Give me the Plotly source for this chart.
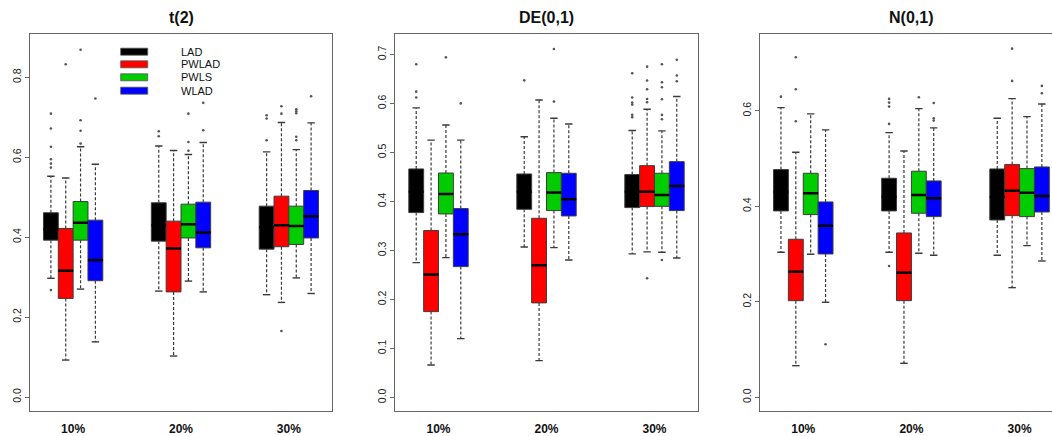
import plotly.graph_objects as go

# ---------------- data ----------------
groups = ["10%", "20%", "30%"]
group_pos = [1, 2, 3]
methods = ["LAD", "PWLAD", "PWLS", "WLAD"]
colors = ["#000000", "#FF0000", "#00CC00", "#0000FF"]
panel_titles = ["t(2)", "DE(0,1)", "N(0,1)"]

# t(2): rows = methods (LAD, PWLAD, PWLS, WLAD), cols = groups
t2_q1 = [[0.3925, 0.390, 0.370], [0.2467, 0.263, 0.376], [0.3925, 0.398, 0.3817], [0.291, 0.3733, 0.398]]
t2_med = [[0.420, 0.430, 0.425], [0.316, 0.3717, 0.430], [0.436, 0.4325, 0.428], [0.3425, 0.4117, 0.4525]]
t2_q3 = [[0.461, 0.486, 0.4775], [0.4217, 0.440, 0.5025], [0.489, 0.4825, 0.4775], [0.4425, 0.4875, 0.5167]]
t2_lo = [[0.297, 0.265, 0.256], [0.0925, 0.1025, 0.2367], [0.270, 0.290, 0.298], [0.138, 0.263, 0.259]]
t2_hi = [[0.5525, 0.628, 0.6133], [0.548, 0.6167, 0.6867], [0.626, 0.6067, 0.619], [0.5825, 0.6367, 0.6858]]
t2_out = [
    [[0.709, 0.672, 0.626, 0.595, 0.584, 0.574, 0.2675], [0.665, 0.6525], [0.705, 0.697, 0.6425]],
    [[0.8325], [], [0.7275, 0.709, 0.165]],
    [[0.869, 0.6925, 0.666, 0.634], [0.709, 0.638, 0.616], [0.720, 0.715, 0.710, 0.651, 0.6425]],
    [[0.747], [0.736, 0.6675], [0.7525]],
]

# DE(0,1)
de_q1 = [[0.3772, 0.384, 0.3874], [0.1752, 0.193, 0.3895], [0.3745, 0.3813, 0.390], [0.267, 0.3704, 0.3813]]
de_med = [[0.420, 0.420, 0.420], [0.2507, 0.2697, 0.420], [0.4153, 0.418, 0.4133], [0.333, 0.4045, 0.4316]]
de_q3 = [[0.4663, 0.456, 0.4548], [0.3405, 0.3656, 0.473], [0.458, 0.4588, 0.4575], [0.3854, 0.4575, 0.4812]]
de_lo = [[0.2752, 0.307, 0.2929], [0.0663, 0.0752, 0.297], [0.2854, 0.3058, 0.2963], [0.120, 0.2806, 0.2847]]
de_hi = [[0.5908, 0.532, 0.5446], [0.525, 0.607, 0.588], [0.556, 0.5697, 0.5439], [0.525, 0.558, 0.614]]
de_out = [
    [[0.680, 0.624, 0.612], [0.647], [0.6616, 0.612, 0.6017, 0.5976, 0.5765, 0.5718]],
    [[], [], [0.675, 0.6466, 0.629, 0.609, 0.6024, 0.2432]],
    [[0.694], [0.711, 0.6037], [0.680, 0.643, 0.633, 0.6085, 0.5765, 0.5677, 0.2806]],
    [[0.600], [], [0.689, 0.6568, 0.6453]],
]

# N(0,1)
n_q1 = [[0.3902, 0.3902, 0.3713], [0.2023, 0.2023, 0.3804], [0.3825, 0.3853, 0.3783], [0.3001, 0.3783, 0.388]]
n_med = [[0.430, 0.420, 0.420], [0.263, 0.261, 0.4327], [0.4272, 0.4237, 0.4285], [0.3594, 0.4167, 0.4216]]
n_q3 = [[0.4767, 0.4586, 0.4781], [0.3309, 0.3441, 0.4872], [0.469, 0.4733, 0.4788], [0.409, 0.453, 0.4823]]
n_lo = [[0.3036, 0.3036, 0.2973], [0.0662, 0.0712, 0.2296], [0.2994, 0.3015, 0.3176], [0.199, 0.2973, 0.2854]]
n_hi = [[0.6065, 0.5542, 0.5842], [0.513, 0.5158, 0.6254], [0.5933, 0.6044, 0.5877], [0.5598, 0.564, 0.6142]]
n_out = [
    [[0.6295], [0.6247, 0.617, 0.6086, 0.5724, 0.275], []],
    [[0.712, 0.645, 0.578], [], [0.730, 0.6624]],
    [[], [0.6283], []],
    [[0.111], [0.6163, 0.5842, 0.5793], [0.652, 0.6366]],
]

y_ticks = [[0.0, 0.2, 0.4, 0.6, 0.8],
           [0.0, 0.1, 0.2, 0.3, 0.4, 0.5, 0.6, 0.7],
           [0.0, 0.2, 0.4, 0.6]]

# ---------------- styling / layout ----------------
FONT = "Liberation Sans, Arial, sans-serif"
W, H = 1052, 436
BW = 0.1375                      # box width in x units
offsets = [-1.5 * BW, -0.5 * BW, 0.5 * BW, 1.5 * BW]
EDGE = "#3c3c3c"
FRAME = "#666666"
WHISK = "#3a3a3a"

panels = [
    (t2_q1, t2_med, t2_q3, t2_lo, t2_hi, t2_out),
    (de_q1, de_med, de_q3, de_lo, de_hi, de_out),
    (n_q1, n_med, n_q3, n_lo, n_hi, n_out),
]
x_domains = [[30 / W, 332 / W], [395.3 / W, 697.7 / W], [760 / W, 1.0]]
x_ranges = [[0.6, 3.4], [0.6, 3.4], [0.6, 3.30]]
y_ranges = [[-0.035, 0.9075], [-0.0276, 0.741], [-0.0287, 0.760]]
y_dom = [(436 - 411) / H, (436 - 34.3) / H]
title_x = [181, 546.5, 911]

fig = go.Figure()

for p, (q1s, meds, q3s, los, his, outs) in enumerate(panels):
    xa = "x" if p == 0 else f"x{p + 1}"
    ya = "y" if p == 0 else f"y{p + 1}"
    for m in range(4):
        xs = [g + offsets[m] for g in group_pos]
        # dashed whiskers
        wx, wy, cx, cy = [], [], [], []
        for k, x in enumerate(xs):
            wx += [x, x, None, x, x, None]
            wy += [q3s[m][k], his[m][k], None, q1s[m][k], los[m][k], None]
            cx += [x - BW / 4, x + BW / 4, None, x - BW / 4, x + BW / 4, None]
            cy += [his[m][k], his[m][k], None, los[m][k], los[m][k], None]
        fig.add_trace(go.Scatter(x=wx, y=wy, mode="lines", xaxis=xa, yaxis=ya,
                                 line=dict(color=WHISK, width=1.2, dash="3px,2px"),
                                 showlegend=False, hoverinfo="skip"))
        fig.add_trace(go.Scatter(x=cx, y=cy, mode="lines", xaxis=xa, yaxis=ya,
                                 line=dict(color=WHISK, width=1.4),
                                 showlegend=False, hoverinfo="skip"))
        # boxes
        fig.add_trace(go.Box(x=xs, q1=q1s[m], median=meds[m], q3=q3s[m],
                             lowerfence=q1s[m], upperfence=q3s[m],
                             width=BW, fillcolor=colors[m],
                             line=dict(color=EDGE, width=1), whiskerwidth=0,
                             boxpoints=False, name=methods[m],
                             xaxis=xa, yaxis=ya, showlegend=False, hoverinfo="skip"))
        # thick median line
        mx, my = [], []
        for k, x in enumerate(xs):
            mx += [x - BW / 2, x + BW / 2, None]
            my += [meds[m][k], meds[m][k], None]
        fig.add_trace(go.Scatter(x=mx, y=my, mode="lines", xaxis=xa, yaxis=ya,
                                 line=dict(color="#000000", width=2.5),
                                 showlegend=False, hoverinfo="skip"))
        # outliers
        ox, oy = [], []
        for k, x in enumerate(xs):
            for v in outs[m][k]:
                ox.append(x)
                oy.append(v)
        fig.add_trace(go.Scatter(x=ox, y=oy, mode="markers", xaxis=xa, yaxis=ya,
                                 marker=dict(color="#555555", size=2.6, symbol="circle"),
                                 showlegend=False, hoverinfo="skip"))

    xkey = "xaxis" if p == 0 else f"xaxis{p + 1}"
    ykey = "yaxis" if p == 0 else f"yaxis{p + 1}"
    fig.layout[xkey] = dict(domain=x_domains[p], range=x_ranges[p], anchor=ya,
                            tickmode="array", tickvals=group_pos,
                            ticktext=[f"<b>{g}</b>" for g in groups],
                            tickfont=dict(family=FONT, size=12, color="#111111"),
                            ticks="outside", ticklen=7, tickcolor="rgba(0,0,0,0)",
                            showline=True, linecolor=FRAME, linewidth=1, mirror=True,
                            showgrid=False, zeroline=False, fixedrange=True)
    fig.layout[ykey] = dict(domain=y_dom, range=y_ranges[p], anchor=xa,
                            tickmode="array", tickvals=y_ticks[p],
                            ticktext=[f"{v:.1f}" for v in y_ticks[p]],
                            tickangle=-90,
                            tickfont=dict(family=FONT, size=10.5, color="#222222"),
                            ticks="outside", ticklen=4, tickcolor=FRAME,
                            showline=True, linecolor=FRAME, linewidth=1,
                            mirror=(p != 2),
                            showgrid=False, zeroline=False, fixedrange=True)

annotations = []
for p, t in enumerate(panel_titles):
    annotations.append(dict(text=f"<b>{t}</b>", x=title_x[p] / W, y=1 - 18 / H,
                            xref="paper", yref="paper", xanchor="center", yanchor="middle",
                            showarrow=False, font=dict(family=FONT, size=16, color="#111111")))

# legend (drawn in panel 1)
shapes = []
leg_y = [51.7, 64.3, 77.3, 90.7]
for m in range(4):
    yc = leg_y[m]
    shapes.append(dict(type="rect", xref="paper", yref="paper",
                       x0=120.7 / W, x1=147.7 / W, y0=1 - (yc + 3.5) / H, y1=1 - (yc - 3.5) / H,
                       fillcolor=colors[m], line=dict(color="#555555", width=0.8)))
    annotations.append(dict(text=methods[m], x=179 / W, y=1 - yc / H,
                            xref="paper", yref="paper", xanchor="left", yanchor="middle",
                            showarrow=False, font=dict(family=FONT, size=11, color="#111111")))

fig.update_layout(width=W, height=H, margin=dict(l=0, r=0, t=0, b=0),
                  paper_bgcolor="white", plot_bgcolor="white",
                  boxmode="overlay", showlegend=False,
                  annotations=annotations, shapes=shapes,
                  font=dict(family=FONT))

fig.write_html("out.html")
